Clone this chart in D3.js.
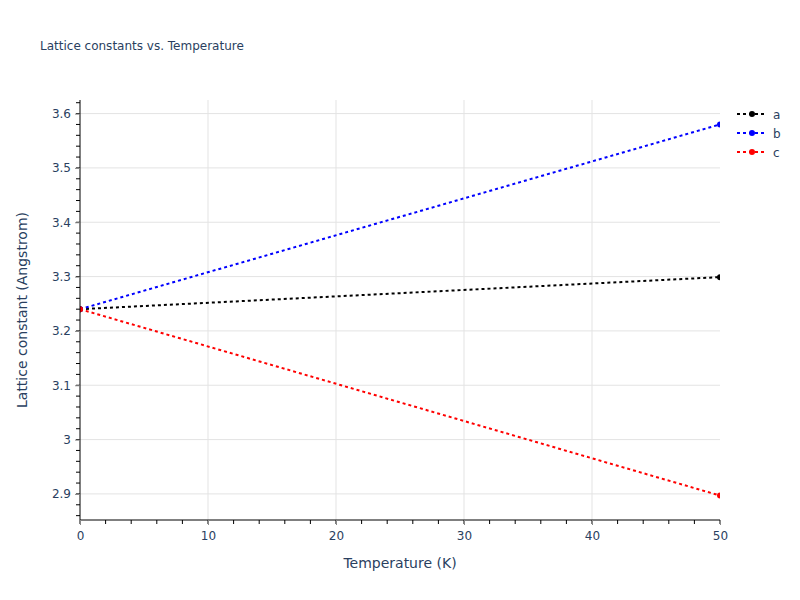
<!DOCTYPE html>
<html>
<head>
<meta charset="utf-8">
<script src="https://cdn.jsdelivr.net/npm/d3@7"></script>
<style>
  body { margin: 0; background: #fff; }
  text { font-family: "DejaVu Sans", Verdana, Arial, sans-serif; }
</style>
</head>
<body>
<div id="chart"></div>
<script>
// Data
const temperature = [0, 50];
const latA = [3.24, 3.299];
const latB = [3.24, 3.58];
const latC = [3.24, 2.897];
const seriesNames = ["a", "b", "c"];
const seriesColors = ["black", "blue", "red"];
const xTicks = [0, 10, 20, 30, 40, 50];
const yTicks = [2.9, 3.0, 3.1, 3.2, 3.3, 3.4, 3.5, 3.6];

const width = 800;
const height = 600;
const margin = {top: 100, right: 80, bottom: 80, left: 80};
const innerWidth = width - margin.left - margin.right;
const innerHeight = height - margin.top - margin.bottom;
const textColor = "#2a3f5f";

const svg = d3.select("#chart")
  .append("svg")
    .attr("width", width)
    .attr("height", height);

svg.append("defs")
  .append("clipPath")
    .attr("id", "plot-clip")
  .append("rect")
    .attr("width", innerWidth)
    .attr("height", innerHeight);

const innerChart = svg
  .append("g")
    .attr("transform", `translate(${margin.left}, ${margin.top})`);

// Scales
const xScale = d3.scaleLinear().domain([0, 50]).range([0, innerWidth]);
const yScale = d3.scaleLinear().domain([2.852, 3.625]).range([innerHeight, 0]);

// Gridlines
innerChart.append("g")
  .selectAll("line")
  .data(xTicks.filter(d => d > 0 && d < 50))
  .join("line")
    .attr("x1", d => xScale(d)).attr("x2", d => xScale(d))
    .attr("y1", 0).attr("y2", innerHeight)
    .attr("stroke", "#e3e3e3").attr("stroke-width", 1);

innerChart.append("g")
  .selectAll("line")
  .data(yTicks)
  .join("line")
    .attr("x1", 0).attr("x2", innerWidth)
    .attr("y1", d => yScale(d)).attr("y2", d => yScale(d))
    .attr("stroke", "#e3e3e3").attr("stroke-width", 1);

// Series
const series = seriesNames.map((name, i) => ({
  name,
  color: seriesColors[i],
  values: temperature.map((t, j) => ({x: t, y: [latA, latB, latC][i][j]}))
}));

const line = d3.line().x(d => xScale(d.x)).y(d => yScale(d.y));

const plot = innerChart.append("g").attr("clip-path", "url(#plot-clip)");

series.forEach(s => {
  plot.append("path")
    .datum(s.values)
    .attr("d", line)
    .attr("fill", "none")
    .attr("stroke", s.color)
    .attr("stroke-width", 2)
    .attr("stroke-dasharray", "3,3");
  plot.selectAll(null)
    .data(s.values)
    .join("circle")
      .attr("cx", d => xScale(d.x))
      .attr("cy", d => yScale(d.y))
      .attr("r", 3)
      .attr("fill", s.color);
});

// Minor ticks
innerChart.append("g")
  .selectAll("line")
  .data(d3.range(0, 51, 2))
  .join("line")
    .attr("x1", d => xScale(d)).attr("x2", d => xScale(d))
    .attr("y1", innerHeight).attr("y2", innerHeight + 4)
    .attr("stroke", "#000");

innerChart.append("g")
  .selectAll("line")
  .data(d3.range(2.86, 3.621, 0.02))
  .join("line")
    .attr("x1", 0).attr("x2", -4)
    .attr("y1", d => yScale(d)).attr("y2", d => yScale(d))
    .attr("stroke", "#000");

// Axes
const xAxis = d3.axisBottom(xScale).tickValues(xTicks).tickSize(5).tickPadding(6);
const gx = innerChart.append("g")
  .attr("transform", `translate(0, ${innerHeight})`)
  .call(xAxis);

const yAxis = d3.axisLeft(yScale).tickValues(yTicks).tickSize(5).tickPadding(4)
  .tickFormat(d => d3.format("")(+d.toFixed(1)));
const gy = innerChart.append("g").call(yAxis);

[gx, gy].forEach(g => {
  g.attr("font-family", null);
  g.select(".domain").attr("stroke", "#000").attr("stroke-width", 1);
  g.selectAll(".tick line").attr("stroke", "#888");
  g.selectAll(".tick text")
    .attr("fill", textColor)
    .style("font-size", "12px");
});
gx.select(".domain").attr("d", `M0,0H${innerWidth}`);
gy.select(".domain").attr("d", `M0,0V${innerHeight}`);

// Axis titles
svg.append("text")
  .attr("x", margin.left + innerWidth / 2)
  .attr("y", 568)
  .attr("text-anchor", "middle")
  .attr("fill", textColor)
  .style("font-size", "14px")
  .text("Temperature (K)");

svg.append("text")
  .attr("transform", `translate(27, ${margin.top + innerHeight / 2}) rotate(-90)`)
  .attr("text-anchor", "middle")
  .attr("fill", textColor)
  .style("font-size", "14px")
  .text("Lattice constant (Angstrom)");

// Title
svg.append("text")
  .attr("x", 40)
  .attr("y", 50)
  .attr("fill", textColor)
  .style("font-size", "12px")
  .text("Lattice constants vs. Temperature");

// Legend
const legend = svg.append("g")
  .attr("transform", "translate(737, 114)");

const legendRows = legend.selectAll("g")
  .data(series)
  .join("g")
    .attr("transform", (d, i) => `translate(0, ${i * 19})`);

legendRows.append("line")
  .attr("x1", 0).attr("x2", 30)
  .attr("stroke", d => d.color)
  .attr("stroke-width", 2)
  .attr("stroke-dasharray", "3,3");

legendRows.append("circle")
  .attr("cx", 15).attr("r", 3)
  .attr("fill", d => d.color);

legendRows.append("text")
  .attr("x", 36)
  .attr("y", 4.5)
  .attr("fill", textColor)
  .style("font-size", "12px")
  .text(d => d.name);
</script>
</body>
</html>
